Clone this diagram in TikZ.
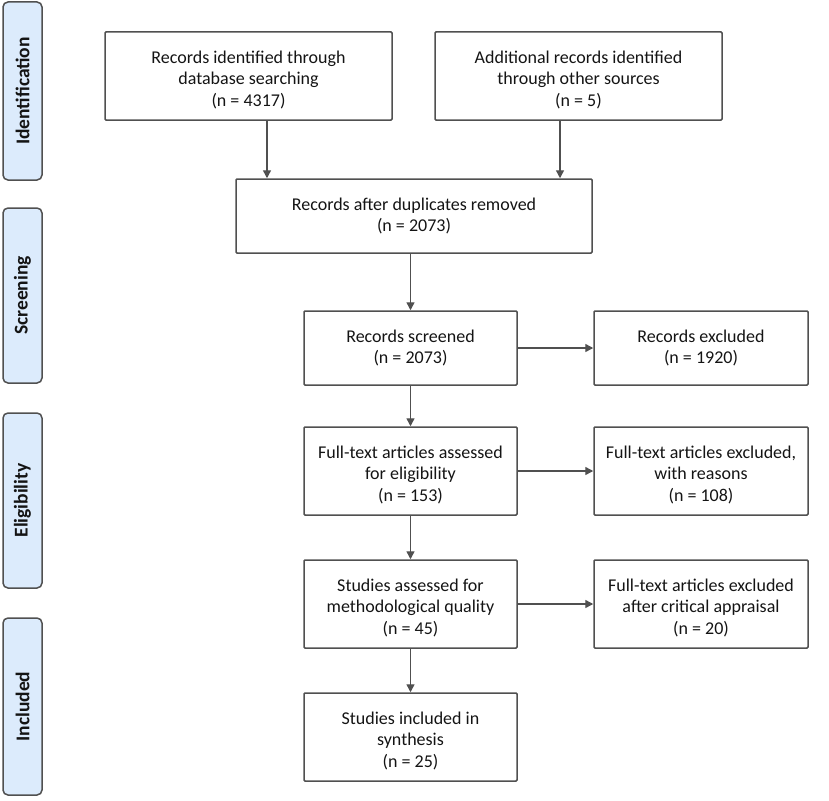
\documentclass[tikz,border=0pt]{standalone}
\usepackage{fontspec}
\setmainfont{Carlito}
\usetikzlibrary{arrows.meta,calc}
\definecolor{lblfill}{HTML}{DCEBFC}
\definecolor{edge}{HTML}{505050}
\definecolor{txt}{HTML}{141414}
\begin{document}
\begin{tikzpicture}[x=1pt,y=-1pt,
  box/.style={draw=edge,line width=1.5pt,rounded corners=1pt,align=center,text=txt,
    font=\fontsize{18}{21.7}\selectfont,inner sep=0pt},
  tall/.style={box,minimum height=88pt,text height=64pt,text depth=3pt},
  stage/.style={draw=edge,fill=lblfill,line width=1.5pt,rounded corners=5pt,rotate=90,
    text=txt,font=\fontsize{19.5}{22}\selectfont\bfseries,inner sep=0pt,
    minimum height=39pt},
  arr/.style={draw=edge,line width=1.4pt,-{Triangle[width=8pt,length=8pt]}}]
\useasboundingbox (0,0) rectangle (829,800);
% stage labels
\node[stage,minimum width=178pt] (s1) at (22.5,91) {Identification};
\node[stage,minimum width=175pt] (s2) at (22.5,295.5) {Screening};
\node[stage,minimum width=175pt] (s3) at (22.5,500.5) {Eligibility};
\node[stage,minimum width=177pt] (s4) at (22.5,706.5) {Included};
% boxes
\node[tall,minimum width=287pt] (A) at (248.5,76)
  {Records identified through\\database searching\\(n = 4317)};
\node[tall,minimum width=287pt] (B) at (578.5,76)
  {Additional records identified\\through other sources\\(n = 5)};
\node[box,minimum width=356pt,minimum height=74pt] (C) at (414,216)
  {Records after duplicates removed\\(n = 2073)};
\node[box,minimum width=213pt,minimum height=74pt] (D) at (410.5,348)
  {Records screened\\(n = 2073)};
\node[box,minimum width=214pt,minimum height=74pt] (E) at (701,348)
  {Records excluded\\(n = 1920)};
\node[tall,minimum width=213pt] (F) at (410.5,471)
  {Full-text articles assessed\\for eligibility\\(n = 153)};
\node[tall,minimum width=214pt] (G) at (701,471)
  {Full-text articles excluded,\\with reasons\\(n = 108)};
\node[tall,minimum width=213pt] (H) at (410.5,604)
  {Studies assessed for\\methodological quality\\(n = 45)};
\node[tall,minimum width=214pt] (I) at (701,604)
  {Full-text articles excluded\\after critical appraisal\\(n = 20)};
\node[tall,minimum width=213pt] (J) at (410.5,737)
  {Studies included in\\synthesis\\(n = 25)};
% connectors
\coordinate (a1) at ($(A.south)+(18.5,0)$);
\coordinate (b1) at ($(B.south)+(-18.5,0)$);
\draw[arr] (a1) -- (a1 |- C.north);
\draw[arr] (b1) -- (b1 |- C.north);
\draw[arr] (C.south -| D.north) -- (D.north);
\draw[arr] (D.east) -- (E.west);
\draw[arr] (D.south) -- (F.north);
\draw[arr] (F.east) -- (G.west);
\draw[arr] (F.south) -- (H.north);
\draw[arr] (H.east) -- (I.west);
\draw[arr] (H.south) -- (J.north);
\end{tikzpicture}
\end{document}
